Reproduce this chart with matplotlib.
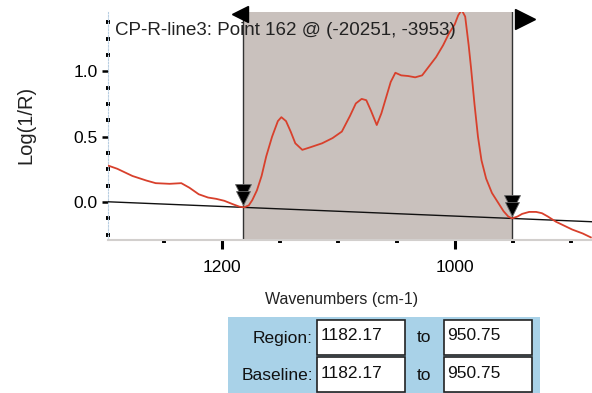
import matplotlib
matplotlib.use('Agg')
import matplotlib.pyplot as plt
import numpy as np
from matplotlib import transforms
from matplotlib.patches import Rectangle
from matplotlib.ticker import MultipleLocator

plt.rcParams['font.family'] = ['Liberation Sans', 'DejaVu Sans']

# spectrum: wavenumber (cm-1) vs log(1/R)
wavenumber = [1298, 1290, 1277, 1265, 1257, 1245, 1235, 1228, 1220, 1212,
              1205, 1198, 1191, 1185, 1181, 1177, 1174, 1170, 1166, 1162,
              1157, 1152, 1149, 1145, 1141, 1137, 1131, 1124, 1114, 1105,
              1097, 1090, 1085, 1080, 1076, 1072, 1067, 1063, 1059, 1055,
              1051, 1046, 1040, 1034, 1028, 1022, 1016, 1010, 1005, 1000,
              997, 994, 991, 988, 986, 983, 980, 977, 973, 968,
              963, 958, 954, 950.75, 946, 942, 936, 930, 925, 920,
              913, 906, 899, 890, 883]
log_1_r = [0.28, 0.255, 0.20, 0.165, 0.145, 0.14, 0.145, 0.11, 0.06, 0.035,
           0.025, 0.01, -0.015, -0.035, -0.04, -0.025, 0.015, 0.09, 0.20, 0.35,
           0.50, 0.62, 0.65, 0.62, 0.54, 0.45, 0.40, 0.42, 0.45, 0.49,
           0.54, 0.66, 0.755, 0.79, 0.78, 0.70, 0.59, 0.68, 0.80, 0.92,
           0.99, 0.97, 0.965, 0.955, 0.97, 1.04, 1.11, 1.20, 1.29, 1.36,
           1.43, 1.47, 1.42, 1.20, 1.03, 0.75, 0.50, 0.32, 0.18, 0.07,
           0.0, -0.07, -0.11, -0.125, -0.11, -0.09, -0.075, -0.075, -0.085, -0.11,
           -0.15, -0.18, -0.21, -0.24, -0.27]

region = [1182.17, 950.75]
baseline = [1182.17, 950.75]
baseline_y = [-0.04, -0.125]

title = 'CP-R-line3: Point 162 @ (-20251, -3953)'
row_names = ['Region:', 'Baseline:']
row_from = ['1182.17', '1182.17']
row_to = ['950.75', '950.75']

fig = plt.figure(figsize=(5.92, 3.93), dpi=100)
ax = fig.add_axes([108 / 592, 1 - 240 / 393, 484 / 592, 228 / 393])

xlim = (1298, 882)
ax.set_xlim(*xlim)
ax.set_ylim(-0.29, 1.455)

ax.axvspan(region[0], region[1], color='#c9c1bd', lw=0, zorder=0)
for r in region:
    ax.axvline(r, color='#333333', lw=1, zorder=2)

# baseline drawn through the two baseline points, extended over the axis
slope = (baseline_y[1] - baseline_y[0]) / (baseline[1] - baseline[0])
bx = np.array(xlim, dtype=float)
by = baseline_y[0] + slope * (bx - baseline[0])
ax.plot(bx, by, color='#111111', lw=1, zorder=3)

ax.plot(wavenumber, log_1_r, color='#d8402c', lw=1.3, zorder=4)

# region handles: arrows at the top, stacked triangles at the baseline points
ax.plot([region[0]], [1], transform=transforms.offset_copy(
    ax.get_xaxis_transform(), fig=fig, x=-3, y=-2, units='dots'),
    marker='<', ms=12, color='black', clip_on=False, zorder=5)
ax.plot([region[1]], [1], transform=transforms.offset_copy(
    ax.get_xaxis_transform(), fig=fig, x=13, y=-7, units='dots'),
    marker='>', ms=15, color='black', clip_on=False, zorder=5)
for bxp, byp in zip(baseline, baseline_y):
    for dy, ms in ((15, 12), (9, 10)):
        tr = transforms.offset_copy(ax.transData, fig=fig, x=0, y=dy, units='dots')
        ax.plot([bxp], [byp], transform=tr, marker='v', ms=ms, color='black',
                markeredgecolor='#666666', markeredgewidth=0.6, zorder=6)

ax.text(0.014, 0.955, title, transform=ax.transAxes, fontsize=13.5,
        va='top', ha='left', color='#222222', zorder=7)

ax.xaxis.set_major_locator(MultipleLocator(200))
ax.xaxis.set_minor_locator(MultipleLocator(50))
ax.yaxis.set_major_locator(MultipleLocator(0.5))
ax.yaxis.set_minor_locator(MultipleLocator(0.125))
ax.tick_params(axis='x', which='major', direction='out', length=6.5, width=2.2,
               pad=8, labelsize=12.5, colors='black')
ax.tick_params(axis='x', which='minor', direction='out', length=2.5, width=2.8,
               colors='black')
ax.tick_params(axis='y', which='major', direction='out', length=4.5, width=1.8,
               pad=3, labelsize=12.5)
ax.tick_params(axis='y', which='minor', direction='inout', length=2.6, width=2.8,
               colors='black')
ax.xaxis.set_major_formatter(lambda v, p: f'{v:.0f}')
ax.yaxis.set_major_formatter(lambda v, p: f'{v:.1f}')

for s in ('top', 'right'):
    ax.spines[s].set_visible(False)
ax.spines['left'].set_color('#b9cfe2')
ax.spines['left'].set_linestyle((0, (1.5, 1.5)))
ax.spines['bottom'].set_color('#d2cfcd')
ax.spines['bottom'].set_linewidth(1.5)

ax.set_xlabel('Wavenumbers (cm-1)', fontsize=11.5, color='#222222')
ax.set_ylabel('Log(1/R)', fontsize=14.5, color='#222222')
ax.xaxis.set_label_coords(0.483, -0.23)
ax.yaxis.set_label_coords(-0.15, 0.505)

# region / baseline entry panel under the plot
panel = fig.add_axes([0, 0, 1, 1], zorder=-1)
panel.set_xlim(0, 592)
panel.set_ylim(393, 0)
panel.axis('off')
panel.add_patch(Rectangle((228, 317), 312, 80, color='#a9d2e8', lw=0))
for i, name in enumerate(row_names):
    top = 320 + 37 * i
    panel.add_patch(Rectangle((317, top), 88, 35, facecolor='white',
                              edgecolor='#222222', lw=1.2))
    panel.add_patch(Rectangle((444, top), 88, 35, facecolor='white',
                              edgecolor='#222222', lw=1.2))
    cy = top + 18
    panel.text(313, cy, name, ha='right', va='center', fontsize=12.5, color='#111111')
    panel.text(321, cy - 2, row_from[i], ha='left', va='center', fontsize=12.5, color='#111111')
    panel.text(417, cy, 'to', ha='left', va='center', fontsize=12.5, color='#111111')
    panel.text(447, cy - 2, row_to[i], ha='left', va='center', fontsize=12.5, color='#111111')

fig.savefig('out.png', dpi=100)
